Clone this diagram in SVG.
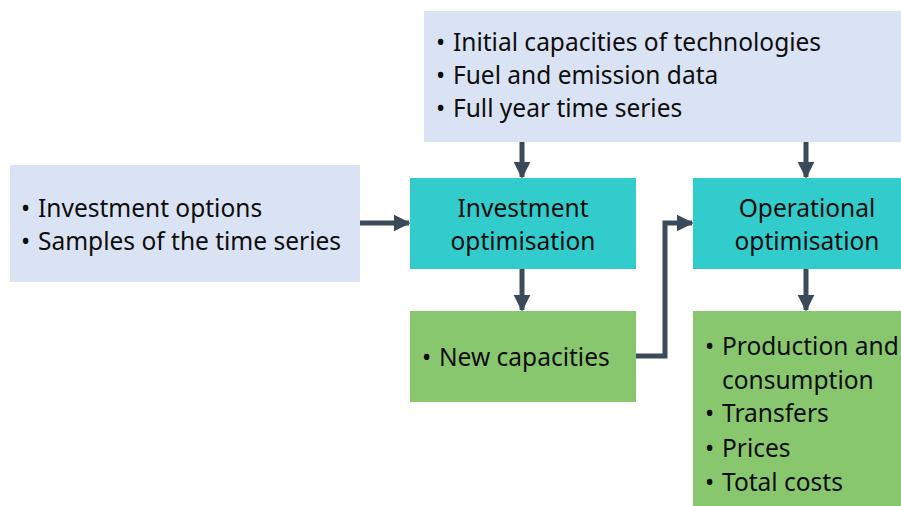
<svg xmlns="http://www.w3.org/2000/svg" width="901" height="506" viewBox="0 0 901 506">
  <style>
    .in { fill: #dae3f3; }
    .opt { fill: #33cccc; }
    .out { fill: #89c76e; }
    text { font-family: "Noto Sans", "Open Sans", sans-serif; font-size: 24.5px; fill: #0d0d0d; }
    .c { text-anchor: middle; }
    .edge { fill: none; stroke: #3a4a5a; stroke-width: 5; marker-end: url(#head); }
  </style>
  <defs>
    <marker id="head" viewBox="0 0 10 10" refX="9" refY="5" markerWidth="3.4" markerHeight="3.6" orient="auto" markerUnits="strokeWidth">
      <path d="M0,0 L10,5 L0,10 Z" fill="#3a4a5a"/>
    </marker>
  </defs>

  <rect width="901" height="506" fill="#ffffff"/>

  <g id="connectors">
    <path class="edge" d="M522,142 V177"/>
    <path class="edge" d="M806,142 V177"/>
    <path class="edge" d="M360,223 H409"/>
    <path class="edge" d="M522,269 V310"/>
    <path class="edge" d="M636,356 H665 V223 H692"/>
    <path class="edge" d="M806,269 V310"/>
  </g>

  <g id="inputs-common">
    <rect class="in" x="424" y="11" width="477" height="131"/>
    <text y="51"><tspan x="436">•</tspan><tspan x="453">Initial capacities of technologies</tspan></text>
    <text y="84"><tspan x="436">•</tspan><tspan x="453">Fuel and emission data</tspan></text>
    <text y="117"><tspan x="436">•</tspan><tspan x="453">Full year time series</tspan></text>
  </g>

  <g id="inputs-investment">
    <rect class="in" x="10" y="165" width="350" height="117"/>
    <text y="217"><tspan x="21">•</tspan><tspan x="38">Investment options</tspan></text>
    <text y="250"><tspan x="21">•</tspan><tspan x="38">Samples of the time series</tspan></text>
  </g>

  <g id="investment-optimisation">
    <rect class="opt" x="410" y="178" width="226" height="91"/>
    <text class="c" x="523" y="217">Investment</text>
    <text class="c" x="523" y="250">optimisation</text>
  </g>

  <g id="operational-optimisation">
    <rect class="opt" x="693" y="178" width="208" height="91"/>
    <text class="c" x="807" y="217">Operational</text>
    <text class="c" x="807" y="250">optimisation</text>
  </g>

  <g id="new-capacities">
    <rect class="out" x="410" y="311" width="226" height="91"/>
    <text y="366"><tspan x="422">•</tspan><tspan x="439">New capacities</tspan></text>
  </g>

  <g id="results">
    <rect class="out" x="693" y="311" width="208" height="195"/>
    <text y="355"><tspan x="705">•</tspan><tspan x="722">Production and</tspan></text>
    <text x="722" y="389">consumption</text>
    <text y="422"><tspan x="705">•</tspan><tspan x="722">Transfers</tspan></text>
    <text y="457"><tspan x="705">•</tspan><tspan x="722">Prices</tspan></text>
    <text y="491"><tspan x="705">•</tspan><tspan x="722">Total costs</tspan></text>
  </g>
</svg>
